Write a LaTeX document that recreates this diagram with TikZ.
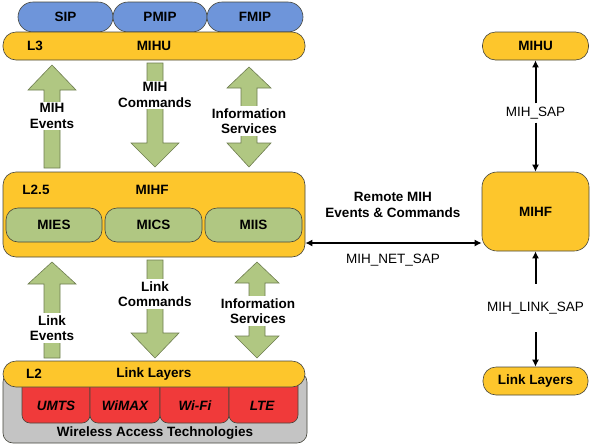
\documentclass[tikz,border=0pt]{standalone}
\usepackage{fontspec}
\setmainfont{Liberation Sans}
\usepackage{tikz}
\usetikzlibrary{arrows.meta}

\definecolor{mihyellow}{RGB}{253,198,44}
\definecolor{mihblue}{RGB}{110,149,218}
\definecolor{mihgreen}{RGB}{176,199,130}
\definecolor{mihred}{RGB}{240,58,58}
\definecolor{mihgray}{RGB}{196,196,196}
\definecolor{mihedge}{RGB}{70,70,60}
\definecolor{arrowedge}{RGB}{110,125,80}

% fat green arrows: centre x, then y values from top to bottom
\newcommand{\fatup}[4]{\draw[fatarrow] ({#1-8},#4) -- ({#1-8},#3) -- ({#1-24},#3) -- (#1,#2) -- ({#1+24},#3) -- ({#1+8},#3) -- ({#1+8},#4) -- cycle;}
\newcommand{\fatdown}[4]{\draw[fatarrow] ({#1-8},#2) -- ({#1-8},#3) -- ({#1-24},#3) -- (#1,#4) -- ({#1+24},#3) -- ({#1+8},#3) -- ({#1+8},#2) -- cycle;}
\newcommand{\fatboth}[5]{\draw[fatarrow] (#1,#2) -- ({#1+22},#3) -- ({#1+8},#3) -- ({#1+8},#4) -- ({#1+22},#4) -- (#1,#5) -- ({#1-22},#4) -- ({#1-8},#4) -- ({#1-8},#3) -- ({#1-22},#3) -- cycle;}

\tikzset{
  every node/.style={font=\fontsize{13.5}{15.5}\selectfont},
  boxbase/.style={draw=mihedge, line width=0.6pt, inner sep=0pt, font=\fontsize{13.5}{15.5}\selectfont\bfseries},
  pill/.style={boxbase, fill=mihblue, rounded corners=15pt, minimum height=30pt},
  bar/.style={boxbase, fill=mihyellow, rounded corners=13pt, minimum height=28pt},
  panel/.style={boxbase, fill=mihyellow, rounded corners=13pt},
  func/.style={boxbase, fill=mihgreen, rounded corners=12pt, minimum height=34pt},
  tech/.style={boxbase, fill=mihred, rounded corners=8pt, minimum height=48pt},
  access/.style={boxbase, fill=mihgray, rounded corners=10pt},
  layertag/.style={inner sep=0pt, font=\fontsize{13.5}{15.5}\selectfont\bfseries},
  techname/.style={inner sep=0pt, font=\fontsize{13.5}{15.5}\selectfont\bfseries\itshape},
  flowlabel/.style={fill=white, align=center, inner xsep=1pt, inner ysep=2pt, font=\fontsize{13.5}{15.5}\selectfont\bfseries},
  saplabel/.style={font=\fontsize{13.5}{15.5}\selectfont},
  sapline/.style={line width=2pt},
  fatarrow/.style={fill=mihgreen, draw=arrowedge, line width=0.6pt},
  >={Latex[length=7pt,width=7pt]}
}

\begin{document}
\begin{tikzpicture}[x=1pt, y=-1pt]
\useasboundingbox (0,0) rectangle (600,445);

% L3
\node[pill, minimum width=95pt] (sip) at (65.5,17) {SIP};
\node[pill, minimum width=94pt] (pmip) at (160,17) {PMIP};
\node[pill, minimum width=96pt] (fmip) at (255,17) {FMIP};
\node[bar, minimum width=302pt] (mihuL) at (154,46) {MIHU};
\node[layertag] (l3) at (35,46) {L3};

\fatup{52}{65}{90}{168}
\fatdown{155}{63}{143}{167}
\fatboth{249}{67}{88}{143}{167}
\node[flowlabel] (mihevents) at (52,116) {MIH\\Events};
\node[flowlabel] (mihcmds) at (155,95) {MIH\\Commands};
\node[flowlabel] (mihinfo) at (249,121) {Information\\Services};

% L2.5
\node[panel, minimum width=302pt, minimum height=85pt] (mihfL) at (154,214.5) {};
\node[layertag] (l25) at (36,190) {L2.5};
\node[layertag] (mihfLname) at (152,190) {MIHF};
\node[func, minimum width=96pt] (mies) at (54,225) {MIES};
\node[func, minimum width=97pt] (mics) at (153.5,225) {MICS};
\node[func, minimum width=97pt] (miis) at (253.5,225) {MIIS};

\fatup{52}{262}{284}{358}
\fatdown{155}{260}{333}{358}
\fatboth{257}{262}{283}{336}{358}
\node[flowlabel] (linkevents) at (52,328) {Link\\Events};
\node[flowlabel] (linkcmds) at (155,294) {Link\\Commands};
\node[flowlabel] (linkinfo) at (258,311) {Information\\Services};

% L2
\node[access, minimum width=304pt, minimum height=71pt] (wat) at (155,407.5) {};
\node[tech, minimum width=68pt] (umts) at (56,399) {};
\node[tech, minimum width=70pt] (wimax) at (125,399) {};
\node[tech, minimum width=69pt] (wifi) at (194.5,399) {};
\node[tech, minimum width=69pt] (lte) at (263.5,399) {};
\node[bar, minimum width=302pt, minimum height=26pt] (linkL) at (154,374) {Link Layers};
\node[layertag] (l2) at (34,374) {L2};
\node[techname] (umtsname) at (56,406) {UMTS};
\node[techname] (wimaxname) at (125,406) {WiMAX};
\node[techname] (wifiname) at (195,406) {Wi-Fi};
\node[techname] (ltename) at (262,406) {LTE};
\node[layertag] (watname) at (155,433) {Wireless Access Technologies};

% remote side
\node[bar, minimum width=106pt] (mihuR) at (535.5,46) {MIHU};
\node[panel, minimum width=107pt, minimum height=79pt, rounded corners=15pt] (mihfR) at (535.5,211.5) {MIHF};
\node[bar, minimum width=105pt] (linkR) at (535.5,381) {Link Layers};

\node[saplabel] (mihsap) at (535.5,113) {MIH\_SAP};
\draw[sapline,->] (mihsap) -- (mihuR);
\draw[sapline,->] (mihsap) -- (mihfR);
\node[saplabel, inner ysep=18pt] (linksap) at (535.5,308) {MIH\_LINK\_SAP};
\draw[sapline,->] (linksap) -- (mihfR);
\draw[sapline,->] (linksap) -- (linkR);

\coordinate (netmid) at (393,243);
\draw[sapline,<->] (mihfL.east |- netmid) -- (mihfR.west |- netmid);
\node[flowlabel] (remote) at (393,205) {Remote MIH\\Events \& Commands};
\node[saplabel] (netsap) at (393,260) {MIH\_NET\_SAP};
\end{tikzpicture}
\end{document}
